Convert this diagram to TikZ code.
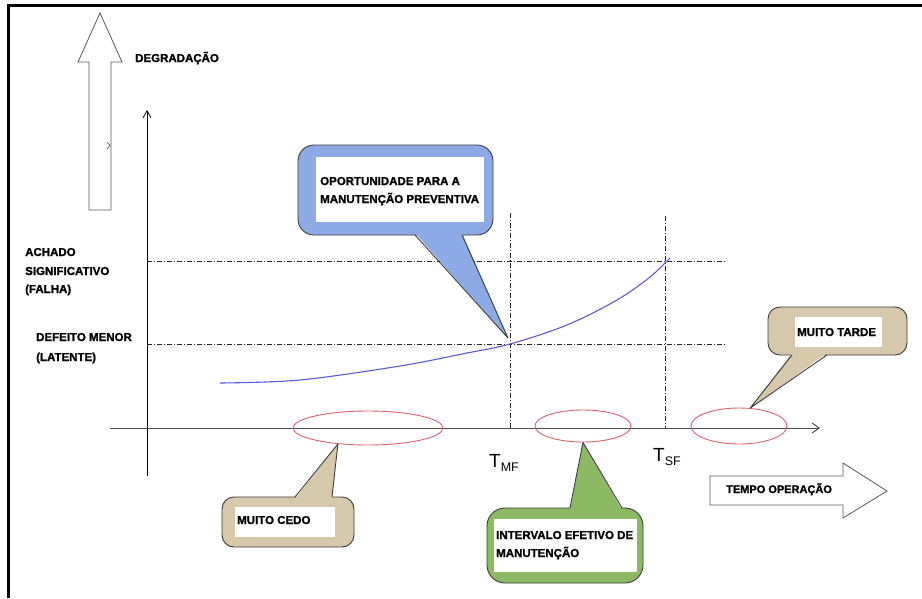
\documentclass[tikz,border=0pt]{standalone}
\usepackage{fontspec}
\setmainfont[BoldFeatures={FakeBold=1.3}]{Liberation Sans}
\usetikzlibrary{arrows.meta,shapes.geometric}
\definecolor{callblue}{RGB}{142,170,230}
\definecolor{calltan}{RGB}{214,200,170}
\definecolor{callgreen}{RGB}{140,185,100}
\definecolor{ellred}{RGB}{228,96,108}
\definecolor{curveblue}{RGB}{90,90,225}
\definecolor{edgegray}{RGB}{60,60,60}
\begin{document}
\begin{tikzpicture}[x=1pt,y=-1pt,
  lbl/.style={font=\fontsize{11.5}{13}\selectfont\bfseries, inner sep=0pt, anchor=base west},
  tlbl/.style={inner sep=0pt, anchor=base west},
  guide/.style={line width=0.8pt, black!85, dash pattern=on 5pt off 2pt on 1pt off 2pt},
  ring/.style={ellipse, draw=ellred, line width=0.9pt, inner sep=0pt},
  bubble/.style={draw=edgegray, line width=0.9pt},
  hollow/.style={draw=black!65, line width=0.8pt, fill=white},
]
\useasboundingbox (0,0) rectangle (922,598);
\fill[white] (0,0) rectangle (922,598);
% frame
\draw[line width=3pt] (8,598) -- (8,5) -- (922,5);

% big degradation arrow
\draw[hollow] (89,210) -- (89,62) -- (78,62) -- (100,13) -- (122,62) -- (111,62) -- (111,210) -- cycle;
\draw[black!70, line width=0.6pt] (107,142) -- (110,145.5) -- (107,149);
\node[lbl] (deg) at (135,62) {DEGRADAÇÃO};

% axes
\coordinate (yb) at (147,476);
\coordinate (yt) at (147,110);
\draw[line width=0.8pt, -{Straight Barb[length=7pt,width=8pt]}] (yb) -- (yt);
\coordinate (xl) at (110,428);
\coordinate (xr) at (820,428);
\draw[line width=1pt, black!70, -{Straight Barb[length=7pt,width=10pt]}] (xl) -- (xr);

% guides
\draw[guide] (147,261) -- (727,261);
\draw[guide] (147,344) -- (727,344);
\draw[guide] (510,213) -- (510,428);
\draw[guide] (665,216) -- (665,428);

% degradation curve
\draw[curveblue, line width=1.1pt] plot[smooth, tension=0.55] coordinates {(220,383) (300,380) (400,366) (467,353) (510,344) (567,325) (617,300) (650,277) (670,258)};

% left labels
\node[lbl] (ach1) at (25,256) {ACHADO};
\node[lbl] (ach2) at (25,275) {SIGNIFICATIVO};
\node[lbl] (ach3) at (25,293) {(FALHA)};
\node[lbl] (def1) at (36,341) {DEFEITO MENOR};
\node[lbl] (def2) at (36,361) {(LATENTE)};

% T labels
\node[tlbl] (tmf) at (489,467) {{\fontsize{19}{19}\selectfont T}\raisebox{-4pt}{\fontsize{12.5}{12.5}\selectfont MF}};
\node[tlbl] (tsf) at (653,461) {{\fontsize{19}{19}\selectfont T}\raisebox{-4pt}{\fontsize{12.5}{12.5}\selectfont SF}};

% ellipses
\node[ring, minimum width=150pt, minimum height=34pt] (e1) at (368,428) {};
\node[ring, minimum width=96pt, minimum height=32pt] (e2) at (583,426) {};
\node[ring, minimum width=96pt, minimum height=36pt] (e3) at (739,426) {};

% blue callout
\coordinate (opp) at (508,338);
\draw[bubble, fill=callblue, rounded corners=16pt] (298,145) rectangle (493,235);
\fill[callblue] (415,233) -- (opp) -- (462,233) -- cycle;
\draw[bubble, line join=round] (415,235) -- (opp) -- (462,235);
\fill[white] (316,157) rectangle (484,222);
\node[lbl] (op1) at (320,185) {OPORTUNIDADE PARA A};
\node[lbl] (op2) at (320,203) {MANUTENÇÃO PREVENTIVA};

% muito cedo callout
\draw[bubble, fill=calltan, rounded corners=12pt] (222,497) rectangle (354,547);
\fill[calltan] (295,499) -- (e1.208) -- (332,499) -- cycle;
\draw[bubble, line join=round] (295,497) -- (e1.208) -- (332,497);
\fill[white] (235,507) rectangle (335,537);
\node[lbl] (cedo) at (237,524) {MUITO CEDO};

% intervalo callout
\draw[bubble, fill=callgreen, rounded corners=18pt] (487,508) rectangle (643,583);
\fill[callgreen] (570,510) -- (e2.south) -- (622,510) -- cycle;
\draw[bubble, line join=round] (570,508) -- (e2.south) -- (622,508);
\fill[white] (494,519) rectangle (637,572);
\node[lbl] (int1) at (496,539) {INTERVALO EFETIVO DE};
\node[lbl] (int2) at (496,557) {MANUTENÇÃO};

% muito tarde callout
\draw[bubble, fill=calltan, rounded corners=12pt] (768,307) rectangle (907,355);
\fill[calltan] (792,353) -- (e3.58) -- (827,353) -- cycle;
\draw[bubble, line join=round] (792,355) -- (e3.58) -- (827,355);
\fill[white] (795,317) rectangle (882,347);
\node[lbl] (tarde) at (797,336) {MUITO TARDE};

% tempo operacao arrow
\draw[hollow] (710,476) -- (843,476) -- (843,463) -- (887,491) -- (843,518) -- (843,505) -- (710,505) -- cycle;
\node[lbl, font=\fontsize{11}{13}\selectfont\bfseries] (tempo) at (726,493) {TEMPO OPERAÇÃO};
\end{tikzpicture}
\end{document}
